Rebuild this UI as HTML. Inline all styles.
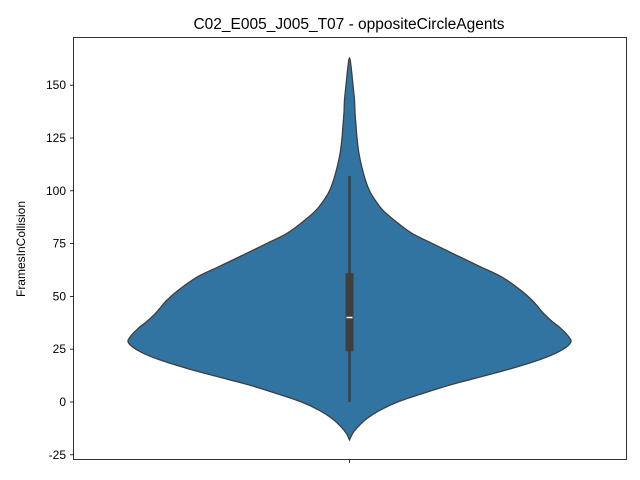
<!DOCTYPE html>
<html><head><meta charset="utf-8"><style>
body{margin:0;background:#fff;}
svg{display:block;font-family:"Liberation Sans","DejaVu Sans",sans-serif;}
</style></head><body>
<svg id="chart" width="640" height="480">
<rect width="640" height="480" fill="#fff"/>
<text x="349" y="29" text-anchor="middle" font-size="15.5">C02_E005_J005_T07 - oppositeCircleAgents</text>
<text transform="translate(25,249) rotate(-90)" text-anchor="middle" font-size="12">FramesInCollision</text>
<g id="plot"></g>
<rect x="73.5" y="37.5" width="553" height="422" fill="none" stroke="#000" stroke-width="0.8"/>
</svg>
<script>
const yTicks = [-25, 0, 25, 50, 75, 100, 125, 150];
const densVals = [-18, -15, -12, -8, -4, 0, 4, 8, 12, 16, 20, 24, 28, 31, 35, 38, 42, 48, 53, 59, 64, 69, 75, 80, 86, 91, 96, 100, 105, 110, 114, 119, 125, 131, 137, 143, 150, 157, 163];
const densWidths = [0, 3, 8, 17, 30, 48, 73, 100, 132, 163, 190, 210, 221, 219, 211, 203, 194, 183, 171, 153, 131, 109, 83, 62, 45, 33, 25, 20, 16, 13, 11, 9, 7.5, 6.5, 5.5, 5, 3.5, 2, 0];
const category = "";
const q1 = 24, median = 40, q3 = 61, whiskerLow = 0, whiskerHigh = 107;

const NS = "http://www.w3.org/2000/svg";
const plot = document.getElementById('plot');
const svg = document.getElementById('chart');
const y = v => 402 - (v * 52.8 / 25);
const cx = 349.5;
function mk(tag, attrs, parent){const e=document.createElementNS(NS,tag);for(const k in attrs)e.setAttribute(k,attrs[k]);(parent||plot).appendChild(e);return e;}

yTicks.forEach(t=>{
  const ty=y(t);
  const l=mk('line',{x1:70,x2:73.5,y1:ty,y2:ty,stroke:'#000','stroke-width':0.8},svg);
  
  
  const tx=mk('text',{x:66,y:ty+4,'text-anchor':'end','font-size':12},svg);
  tx.textContent=t;
  
  
});
const xt=mk('line',{x1:cx,x2:cx,y1:459.5,y2:463,stroke:'#000','stroke-width':0.8},svg);



const right = densVals.map((v,i)=>[cx+densWidths[i], y(v)]);
const left = densVals.map((v,i)=>[cx-densWidths[i], y(v)]).reverse();
const pts = right.concat(left.slice(1));
function cr(p){let d=`M${p[0][0]},${p[0][1]}`;for(let i=0;i<p.length-1;i++){const p0=p[Math.max(i-1,0)],p1=p[i],p2=p[i+1],p3=p[Math.min(i+2,p.length-1)];d+=` C${p1[0]+(p2[0]-p0[0])/6},${p1[1]+(p2[1]-p0[1])/6} ${p2[0]-(p3[0]-p1[0])/6},${p2[1]-(p3[1]-p1[1])/6} ${p2[0]},${p2[1]}`;}return d+'Z';}
const body=mk('path',{d:cr(pts),fill:'#3274a1',stroke:'#3f3f3f','stroke-width':1.3});


const wh=mk('line',{x1:cx,x2:cx,y1:y(whiskerLow),y2:y(whiskerHigh),stroke:'#3f3f3f','stroke-width':2.5});


const box=mk('rect',{x:cx-4,y:y(q3),width:8,height:y(q1)-y(q3),fill:'#3f3f3f'});


const med=mk('line',{x1:cx-3,x2:cx+3,y1:y(median),y2:y(median),stroke:'#fff','stroke-width':1.5});


</script>
</body></html>
